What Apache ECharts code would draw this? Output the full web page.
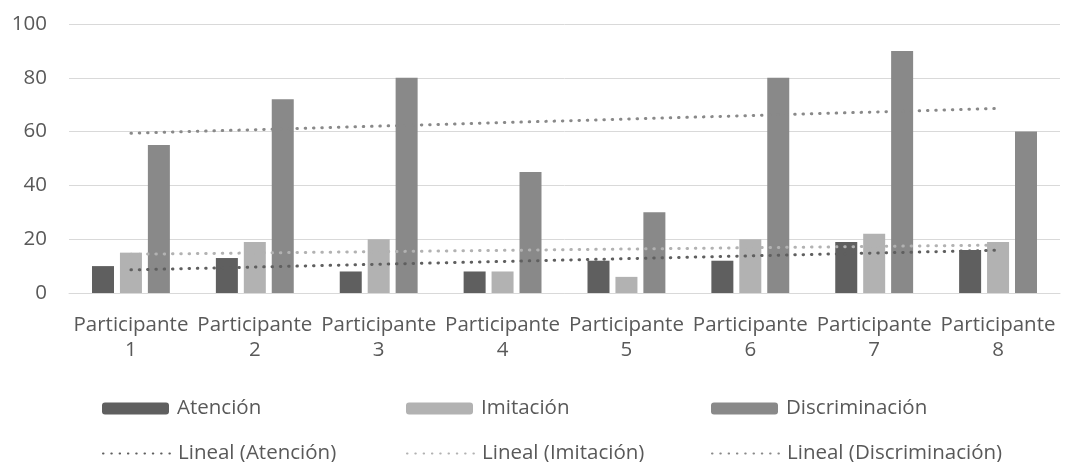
<!DOCTYPE html>
<html><head><meta charset="utf-8">
<script src="https://cdn.jsdelivr.net/npm/echarts@6/dist/echarts.min.js"></script>
<style>html,body{margin:0;padding:0;background:#fff}#c{width:1075px;height:462px}</style>
</head><body><div id="c"></div>
<script>
const categories = ['Participante\n1','Participante\n2','Participante\n3','Participante\n4','Participante\n5','Participante\n6','Participante\n7','Participante\n8'];
const atencion = [10, 13, 8, 8, 12, 12, 19, 16];
const imitacion = [15, 19, 20, 8, 6, 20, 22, 19];
const discriminacion = [55, 72, 80, 45, 30, 80, 90, 60];
// trend line endpoints (first and last participant)
const trendAtencion = [8.6, 15.9];
const trendImitacion = [14.4, 17.8];
const trendDiscriminacion = [59.4, 68.6];
const yTicks = {min: 0, max: 100, interval: 20};

function ends(pair){ const a = new Array(categories.length).fill(null); a[0]=pair[0]; a[a.length-1]=pair[1]; return a; }

const FONT = 'Open Sans';
const FS = 20.5;
const TXT = '#595959';
const cDark = '#5f5f5f', cLight = '#b2b2b2', cMid = '#898989';
const dot = {width: 3, type: [0.5, 7.8], cap: 'round'};

function lg(left, top, name, isLine){
  return {left: left, top: top, itemWidth: 67, itemHeight: 12, itemGap: 0,
    textStyle: {color: TXT, fontSize: FS, fontFamily: FONT, padding: [0, 0, 0, 3]},
    data: [isLine ? {name: name, itemStyle: {opacity: 0}} : name]};
}

const chart = echarts.init(document.getElementById('c'));
chart.setOption({
  animation: false,
  grid: {left: 69, right: 15, top: 24, bottom: 169},
  xAxis: {type: 'category', data: categories,
    axisLine: {lineStyle: {color: '#d9d9d9', width: 1}}, axisTick: {show: false},
    axisLabel: {color: TXT, fontSize: FS, fontFamily: FONT, lineHeight: 25, margin: 20, interval: 0}},
  yAxis: {type: 'value', min: yTicks.min, max: yTicks.max, interval: yTicks.interval,
    axisLine: {show: false}, axisTick: {show: false},
    splitLine: {lineStyle: {color: '#d9d9d9', width: 1}},
    axisLabel: {color: TXT, fontSize: FS, fontFamily: FONT, margin: 22}},
  legend: [
    lg(97, 393, 'Atención', false),
    lg(401, 393, 'Imitación', false),
    lg(706, 393, 'Discriminación', false),
    lg(97, 438, 'Lineal (Atención)', true),
    lg(401, 438, 'Lineal (Imitación)', true),
    lg(706, 438, 'Lineal (Discriminación)', true)
  ],
  series: [
    {name: 'Atención', type: 'bar', data: atencion, barWidth: 22, barGap: '27%', itemStyle: {color: cDark}},
    {name: 'Imitación', type: 'bar', data: imitacion, barWidth: 22, barGap: '27%', itemStyle: {color: cLight}},
    {name: 'Discriminación', type: 'bar', data: discriminacion, barWidth: 22, barGap: '27%', itemStyle: {color: cMid}},
    {name: 'Lineal (Atención)', type: 'line', data: ends(trendAtencion), connectNulls: true, symbol: 'none',
      lineStyle: Object.assign({color: cDark}, dot), itemStyle: {color: cDark}, z: 5},
    {name: 'Lineal (Imitación)', type: 'line', data: ends(trendImitacion), connectNulls: true, symbol: 'none',
      lineStyle: Object.assign({color: cLight}, dot), itemStyle: {color: cLight}, z: 5},
    {name: 'Lineal (Discriminación)', type: 'line', data: ends(trendDiscriminacion), connectNulls: true, symbol: 'none',
      lineStyle: Object.assign({color: cMid}, dot), itemStyle: {color: cMid}, z: 5}
  ]
});
</script></body></html>
